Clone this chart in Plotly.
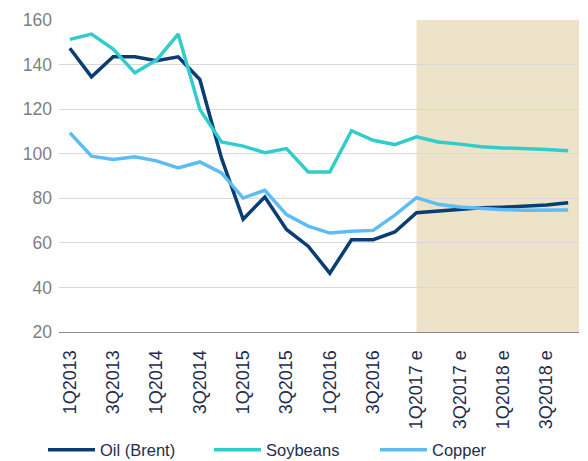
import plotly.graph_objects as go

categories = [
    "1Q2013", "2Q2013", "3Q2013", "4Q2013",
    "1Q2014", "2Q2014", "3Q2014", "4Q2014",
    "1Q2015", "2Q2015", "3Q2015", "4Q2015",
    "1Q2016", "2Q2016", "3Q2016", "4Q2016",
    "1Q2017 e", "2Q2017 e", "3Q2017 e", "4Q2017 e",
    "1Q2018 e", "2Q2018 e", "3Q2018 e", "4Q2018 e",
]
tick_labels = categories[::2]
forecast_start = "1Q2017 e"

oil = [147.3, 134.5, 143.5, 143.5, 141.7, 143.5, 133.3, 98.0,
       70.6, 80.6, 66.0, 58.5, 46.4, 61.4, 61.4, 64.9,
       73.5, 74.3, 75.0, 75.7, 76.0, 76.4, 77.0, 78.0]
soybeans = [151.3, 153.7, 147.0, 136.3, 142.0, 153.7, 119.9, 105.3,
            103.4, 100.5, 102.3, 91.8, 91.8, 110.3, 106.0, 104.1,
            107.6, 105.3, 104.3, 103.1, 102.6, 102.3, 101.9, 101.3]
copper = [109.4, 98.9, 97.4, 98.6, 96.8, 93.6, 96.3, 91.4,
          80.1, 83.6, 72.7, 67.5, 64.4, 65.2, 65.6, 72.4,
          80.3, 77.3, 76.1, 75.4, 74.9, 74.6, 74.6, 74.7]

series = [
    ("Oil (Brent)", oil, "#0A3D74"),
    ("Soybeans", soybeans, "#33CCCC"),
    ("Copper", copper, "#5CBDF6"),
]

fig = go.Figure()
for name, vals, color in series:
    fig.add_trace(go.Scatter(
        x=categories, y=vals, name=name, mode="lines",
        line=dict(color=color, width=3.5),
    ))

fs_idx = categories.index(forecast_start)
fig.add_shape(
    type="rect", xref="x", yref="paper",
    x0=fs_idx, x1=len(categories) - 0.5, y0=0, y1=1,
    fillcolor="#EDE3C8", line=dict(width=0), layer="below",
)

font_family = "Liberation Sans, Arial, sans-serif"
W, H = 580, 453
fig.update_layout(
    width=W, height=H,
    margin=dict(l=51, r=9, t=12, b=129, autoexpand=False),
    paper_bgcolor="white", plot_bgcolor="white",
    font=dict(family=font_family),
    showlegend=True,
    legend=dict(
        orientation="h", xref="container", yref="container",
        x=35 / W, xanchor="left", y=1 - 442 / H, yanchor="middle",
        font=dict(size=16.5, color="#1F2D4E"),
        itemwidth=47, entrywidth=104,
        bgcolor="rgba(0,0,0,0)",
    ),
)
fig.update_xaxes(
    type="category", automargin=False,
    range=[-0.5, len(categories) - 0.5],
    tickmode="array", tickvals=tick_labels, ticktext=tick_labels,
    tickangle=-90,
    tickfont=dict(size=18, color="#1F2D4E"),
    showgrid=False, showline=True, linecolor="#8C8C8C", linewidth=1,
    ticks="", ticklabelstandoff=10,
)
fig.update_yaxes(
    range=[20, 160], dtick=20, tick0=20, automargin=False,
    tickfont=dict(size=17.5, color="#7F7F7F"),
    showgrid=True, gridcolor="#D9D9D9", gridwidth=1,
    zeroline=False, ticks="", ticklabelstandoff=6,
)

fig.write_html("out.html")
